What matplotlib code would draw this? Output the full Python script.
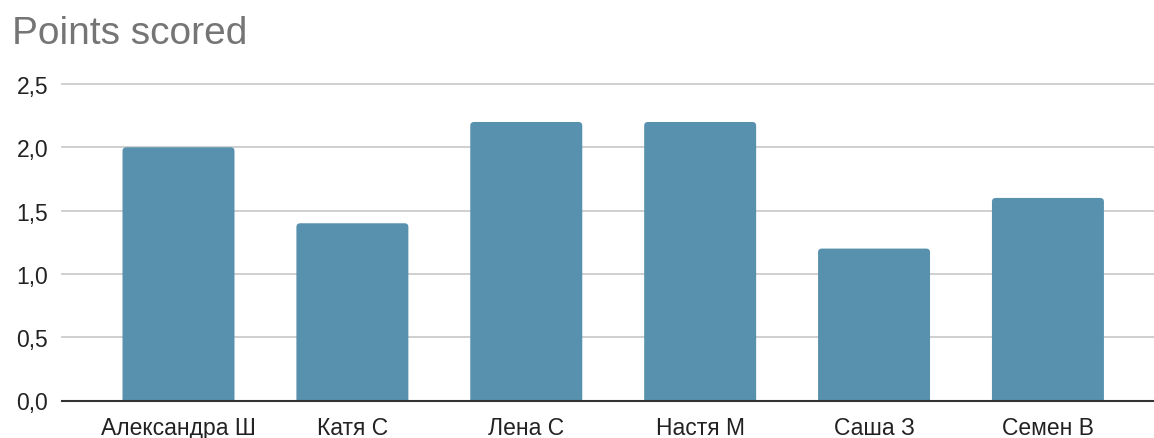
import matplotlib
matplotlib.use('Agg')
import matplotlib.pyplot as plt
from matplotlib.patches import FancyBboxPatch
from matplotlib.ticker import FuncFormatter

# data
names = ['Александра Ш', 'Катя С', 'Лена С', 'Настя М', 'Саша З', 'Семен В']
points = [2.0, 1.4, 2.2, 2.2, 1.2, 1.6]
y_ticks = [0.0, 0.5, 1.0, 1.5, 2.0, 2.5]

plt.rcParams['font.family'] = ['Liberation Sans', 'DejaVu Sans']

fig = plt.figure(figsize=(11.54, 4.39), dpi=100)
ax = fig.add_axes([62 / 1154, 1 - 401.5 / 439, 1 - 62 / 1154, (401.5 - 85) / 439])

x = list(range(len(names)))
bars = ax.bar(x, points, width=0.644, color='#5891ae', zorder=3)

# swap the plain bars for ones with slightly rounded tops
for b in bars:
    rb = FancyBboxPatch((b.get_x(), -0.1), b.get_width(), b.get_height() + 0.1,
                        boxstyle='round,pad=0,rounding_size=0.022',
                        mutation_aspect=1.37, facecolor='#5891ae',
                        edgecolor='none', zorder=3)
    ax.add_patch(rb)
    b.set_visible(False)

ax.set_xlim(-0.67, 5.61)
ax.set_ylim(0, 2.5)
ax.set_yticks(y_ticks)
ax.yaxis.set_major_formatter(FuncFormatter(lambda v, p: ('%.1f' % v).replace('.', ',')))
ax.set_xticks(x)
ax.set_xticklabels(names)

for t in y_ticks[1:]:
    ax.axhline(t, color='#cccccc', linewidth=1.3, zorder=1, clip_on=False)
ax.axhline(0, color='#333333', linewidth=1.5, zorder=4, clip_on=False)

for s in ax.spines.values():
    s.set_visible(False)
ax.tick_params(axis='both', length=0, labelsize=16.5, colors='#222222')
ax.tick_params(axis='y', pad=10)
ax.tick_params(axis='x', pad=11)

fig.text(12 / 1154, 1 - 44 / 439, 'Points scored', fontsize=28, color='#757575',
         ha='left', va='baseline')

fig.savefig('out.png', dpi=100)
plt.close()
